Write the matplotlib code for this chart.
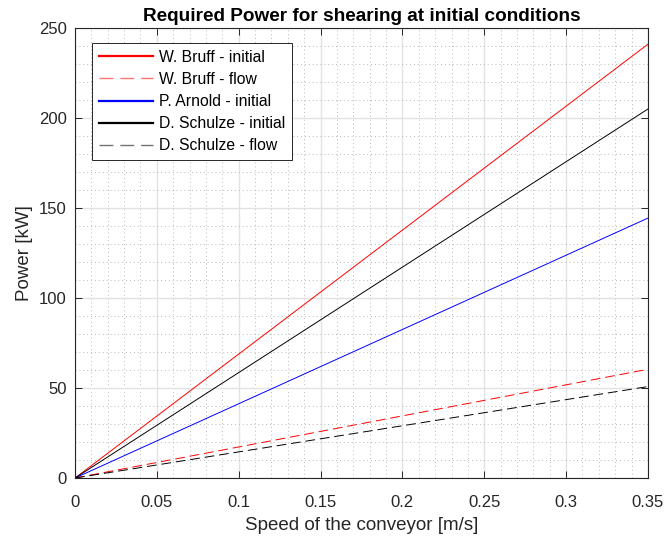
import numpy as np
import matplotlib.pyplot as plt
from matplotlib.ticker import MultipleLocator

plt.rcParams['font.family'] = ['Liberation Sans', 'DejaVu Sans']

# speed of the conveyor [m/s]
speed = [0.0, 0.35]
# power [kW] at start and end of the range
bruff_initial = [0.0, 241.0]
bruff_flow = [0.0, 60.4]
arnold_initial = [0.0, 144.4]
schulze_initial = [0.0, 205.0]
schulze_flow = [0.0, 50.8]
xtick_labels = ['0', '0.05', '0.1', '0.15', '0.2', '0.25', '0.3', '0.35']

fig = plt.figure(figsize=(6.65, 5.38), dpi=100)
ax = fig.add_axes([0.1128, 0.1115, 0.8616, 0.8365])

dash = (0, (10, 5))
ax.plot(speed, bruff_initial, color='r', lw=0.7, label='W. Bruff - initial')
ax.plot(speed, bruff_flow, color='r', lw=0.7, ls=dash, label='W. Bruff - flow')
ax.plot(speed, arnold_initial, color='b', lw=0.7, label='P. Arnold - initial')
ax.plot(speed, schulze_initial, color='k', lw=0.7, label='D. Schulze - initial')
ax.plot(speed, schulze_flow, color='k', lw=0.7, ls=dash, label='D. Schulze - flow')

ax.set_xlim(0, 0.35)
ax.set_ylim(0, 250)
ax.set_xticks(np.arange(0, 0.351, 0.05))
ax.set_xticklabels(xtick_labels)
ax.xaxis.set_minor_locator(MultipleLocator(0.01))
ax.yaxis.set_major_locator(MultipleLocator(50))
ax.yaxis.set_minor_locator(MultipleLocator(10))

ax.grid(which='major', color='#e2e2e2', lw=1.0)
ax.grid(which='minor', color='#b8b8b8', lw=0.7, ls=(0, (1, 3)))
ax.set_axisbelow(True)
ax.tick_params(which='both', direction='in', top=True, right=True, labelsize=12,
               color='#262626', labelcolor='#262626')
ax.tick_params(which='minor', length=0)
ax.tick_params(which='major', length=5, width=0.7)
ax.tick_params(axis='x', pad=12)
ax.tick_params(axis='y', pad=6)
for s in ax.spines.values():
    s.set_color('#262626')
    s.set_linewidth(0.8)

ax.set_xlabel('Speed of the conveyor [m/s]', fontsize=13.5, color='#262626', labelpad=5)
ax.set_ylabel('Power [kW]', fontsize=13.5, color='#262626', labelpad=4)
ax.set_title('Required Power for shearing at initial conditions', fontsize=13.7,
             fontweight='bold', pad=5)

leg = ax.legend(loc='upper left', bbox_to_anchor=(0.03, 0.967), fontsize=11.3, fancybox=False,
                edgecolor='#262626', framealpha=1, handlelength=3.4, handletextpad=0.4,
                borderpad=0.45, labelspacing=0.45, borderaxespad=0)
leg.get_frame().set_linewidth(0.7)
for h in leg.get_lines():
    if h.get_linestyle() == '-':
        h.set_linewidth(1.6)
    else:
        h.set_linewidth(1.0)
        h.set_alpha(0.55)

fig.savefig('out.png', dpi=100)
